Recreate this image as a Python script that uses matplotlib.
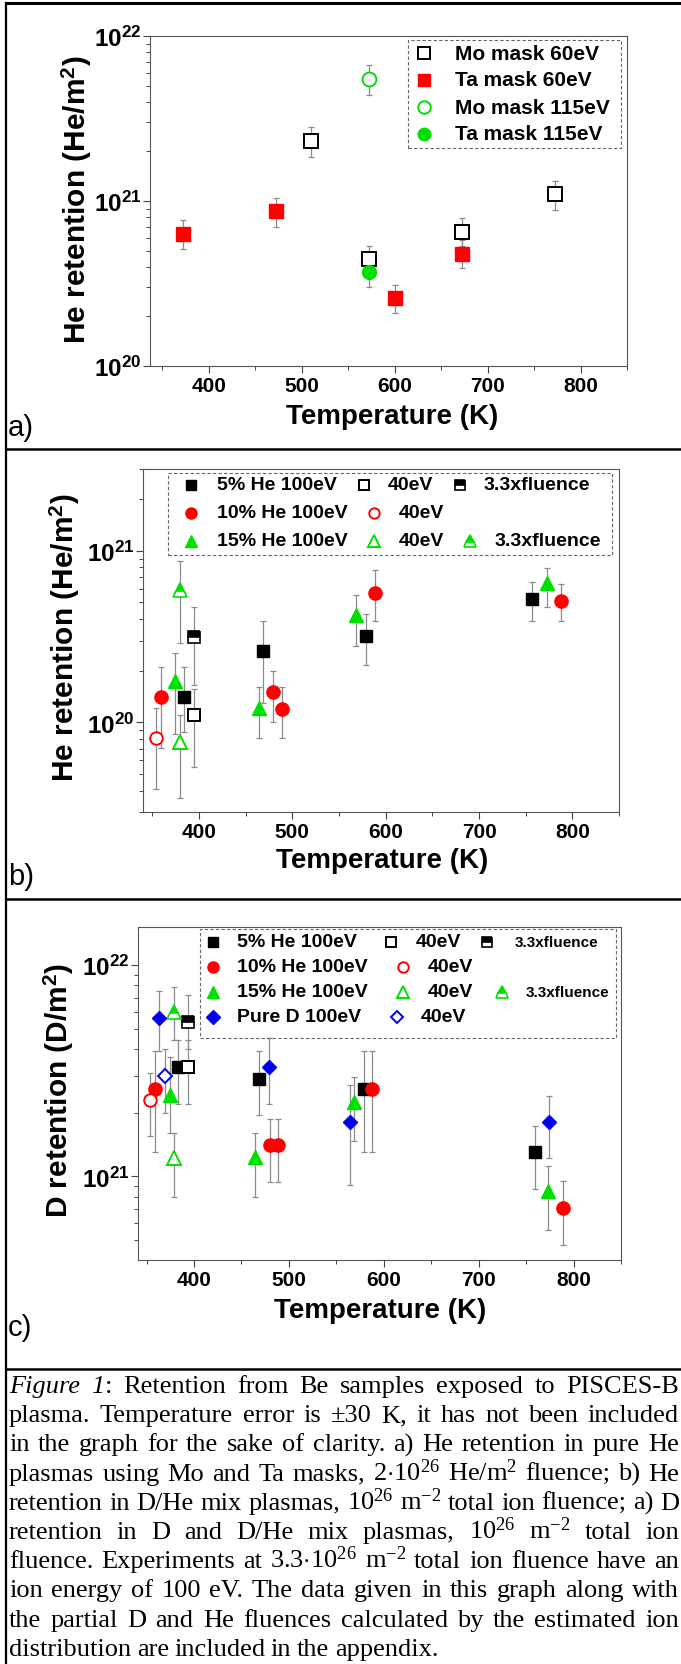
import numpy as np
import matplotlib
matplotlib.use('Agg')
import matplotlib.pyplot as plt
from matplotlib.lines import Line2D
from matplotlib.patches import Rectangle
from matplotlib.ticker import LogLocator, MultipleLocator, NullFormatter

# figure size in pixels
W, H = 681, 1665

plt.rcParams['font.family'] = ['Liberation Sans', 'DejaVu Sans']
plt.rcParams['mathtext.fontset'] = 'custom'
plt.rcParams['mathtext.rm'] = 'Liberation Serif'
plt.rcParams['mathtext.it'] = 'Liberation Serif:italic'
plt.rcParams['mathtext.bf'] = 'Liberation Sans:bold'

RED = '#ff0000'
GREEN = '#00e000'
BLUE = '#0000ee'
BAR = '#8c8c8c'

# ---------------- panel a: He retention, pure He plasma ----------------
mo60_T = [510, 573, 673, 773]
mo60_v = [2.3e21, 4.45e20, 6.5e20, 1.1e21]
mo60_lo = [1.86e21, 3.6e20, 5.3e20, 8.85e20]
mo60_hi = [2.8e21, 5.3e20, 7.9e20, 1.33e21]

ta60_T = [373, 473, 600, 673]
ta60_v = [6.3e20, 8.7e20, 2.6e20, 4.8e20]
ta60_lo = [5.1e20, 7.0e20, 2.1e20, 3.9e20]
ta60_hi = [7.7e20, 1.05e21, 3.1e20, 5.8e20]

mo115_T = [573]
mo115_v = [5.5e21]
mo115_lo = [4.4e21]
mo115_hi = [6.7e21]

ta115_T = [573]
ta115_v = [3.7e20]
ta115_lo = [3.0e20]
ta115_hi = [4.5e20]

# ---------------- panel b: He retention, D/He mix ----------------
he5_T = [384, 469, 579, 757]
he5_v = [1.4e20, 2.6e20, 3.2e20, 5.25e20]
he5_lo = [8.8e19, 1.3e20, 2.16e20, 3.9e20]
he5_hi = [2.1e20, 3.9e20, 4.3e20, 6.6e20]

he5_40_T = [395]
he5_40_v = [1.1e20]
he5_40_lo = [5.5e19]
he5_40_hi = [1.56e20]

he5_33_T = [395]
he5_33_v = [3.16e20]
he5_33_lo = [1.66e20]
he5_33_hi = [4.7e20]

he10_T = [359, 479, 489, 589, 788]
he10_v = [1.4e20, 1.5e20, 1.2e20, 5.7e20, 5.1e20]
he10_lo = [7.1e19, 1.0e20, 8.1e19, 3.9e20, 3.9e20]
he10_hi = [2.1e20, 2.0e20, 1.6e20, 7.7e20, 6.4e20]

he10_40_T = [354]
he10_40_v = [8.1e19]
he10_40_lo = [4.1e19]
he10_40_hi = [1.21e20]

he15_T = [374, 464, 568, 773]
he15_v = [1.75e20, 1.22e20, 4.2e20, 6.5e20]
he15_lo = [8.5e19, 8.1e19, 2.8e20, 4.7e20]
he15_hi = [2.55e20, 1.6e20, 5.5e20, 7.9e20]

he15_40_T = [380]
he15_40_v = [7.7e19]
he15_40_lo = [3.6e19]
he15_40_hi = [1.1e20]

he15_33_T = [380]
he15_33_v = [5.9e20]
he15_33_lo = [2.9e20]
he15_33_hi = [8.7e20]

# ---------------- panel c: D retention ----------------
d5_T = [383, 469, 579, 759]
d5_v = [3.3e21, 2.9e21, 2.6e21, 1.31e21]
d5_lo = [2.2e21, 1.95e21, 1.31e21, 8.7e20]
d5_hi = [4.4e21, 3.9e21, 3.9e21, 1.74e21]

d5_40_T = [394]
d5_40_v = [3.3e21]
d5_40_lo = [2.2e21]
d5_40_hi = [4.4e21]

d5_33_T = [394]
d5_33_v = [5.4e21]
d5_33_lo = [4.0e21]
d5_33_hi = [7.2e21]

d10_T = [359, 480, 489, 588, 789]
d10_v = [2.6e21, 1.41e21, 1.41e21, 2.6e21, 7.1e20]
d10_lo = [1.3e21, 9.4e20, 9.4e20, 1.31e21, 4.75e20]
d10_hi = [3.9e21, 1.87e21, 1.87e21, 3.9e21, 9.5e20]

d10_40_T = [354]
d10_40_v = [2.3e21]
d10_40_lo = [1.55e21]
d10_40_hi = [3.1e21]

d15_T = [375, 464, 569, 773]
d15_v = [2.43e21, 1.23e21, 2.25e21, 8.55e20]
d15_lo = [1.6e21, 8.0e20, 1.47e21, 5.6e20]
d15_hi = [3.66e21, 1.6e21, 2.94e21, 1.12e21]

d15_40_T = [379]
d15_40_v = [1.22e21]
d15_40_lo = [8.0e20]
d15_40_hi = [1.6e21]

d15_33_T = [379]
d15_33_v = [6.0e21]
d15_33_lo = [4.4e21]
d15_33_hi = [7.9e21]

dpure_T = [363, 479, 564, 774]
dpure_v = [5.6e21, 3.3e21, 1.8e21, 1.8e21]
dpure_lo = [3.9e21, 2.2e21, 9.1e20, 1.22e21]
dpure_hi = [7.5e21, 4.5e21, 2.7e21, 2.4e21]

dpure_40_T = [369]
dpure_40_v = [3.0e21]
dpure_40_lo = [2.0e21]
dpure_40_hi = [4.0e21]

x_ticks = [400, 500, 600, 700, 800]

# words wrapped in _..._ are set in italics
caption_lines = [
    '_Figure_ _1_: Retention from Be samples exposed to PISCES-B',
    'plasma. Temperature error is \u00b130 K, it has not been included',
    'in the graph for the sake of clarity. a) He retention in pure He',
    r'plasmas using Mo and Ta masks, 2$\cdot$10$^{\mathrm{26}}$ He/m$^{\mathrm{2}}$ fluence; b) He',
    r'retention in D/He mix plasmas, 10$^{\mathrm{26}}$ m$^{\mathrm{-2}}$ total ion fluence; a) D',
    r'retention in D and D/He mix plasmas, 10$^{\mathrm{26}}$ m$^{\mathrm{-2}}$ total ion',
    r'fluence. Experiments at 3.3$\cdot$10$^{\mathrm{26}}$ m$^{\mathrm{-2}}$ total ion fluence have an',
    'ion energy of 100 eV. The data given in this graph along with',
    'the partial D and He fluences calculated by the estimated ion',
    'distribution are included in the appendix.',
]


def fx(x):
    return x / W


def fy(y):
    return 1 - y / H


def add_axes_px(fig, left, top, right, bottom):
    return fig.add_axes([fx(left), fy(bottom), (right - left) / W, (bottom - top) / H])


def filled(marker, color, size):
    return dict(marker=marker, ms=size, mfc=color, mec=color, mew=1)


def hollow(marker, color, size):
    return dict(marker=marker, ms=size, mfc='white', mec=color, mew=1.4)


def half(marker, color, size):
    return dict(marker=marker, ms=size, mfc=color, mfcalt='white', fillstyle='top',
                mec=color, mew=1.2)


def plot_series(ax, T, v, lo, hi, style):
    yerr = [[a - b for a, b in zip(v, lo)], [b - a for a, b in zip(v, hi)]]
    ax.errorbar(T, v, yerr=yerr, fmt='none', ecolor=BAR, elinewidth=0.9,
                capsize=2.5, capthick=0.9, zorder=2)
    ax.plot(T, v, linestyle='none', zorder=3, **style)


def style_axes(ax, xlim, ylim, yticks):
    ax.set_yscale('log')
    ax.set_xlim(*xlim)
    ax.set_ylim(*ylim)
    ax.set_xticks(x_ticks)
    ax.set_xticklabels([str(t) for t in x_ticks], fontweight='bold')
    ax.xaxis.set_minor_locator(MultipleLocator(50))
    ax.set_yticks(yticks)
    ax.set_yticklabels([r'$\mathbf{10^{%d}}$' % round(np.log10(t)) for t in yticks])
    ax.yaxis.set_minor_locator(LogLocator(base=10, subs=np.arange(2, 10)))
    ax.yaxis.set_minor_formatter(NullFormatter())
    ax.tick_params(which='both', direction='out', top=False, right=False, color='#444')
    ax.tick_params(which='major', length=5, width=0.8)
    ax.tick_params(which='minor', length=3, width=0.7)
    ax.tick_params(axis='x', labelsize=15, pad=2)
    ax.tick_params(axis='y', labelsize=17.5, pad=1)
    for s in ax.spines.values():
        s.set_color('#555555')
        s.set_linewidth(0.8)


def legend_box(fig, left, top, right, bottom):
    fig.add_artist(Rectangle((fx(left), fy(bottom)), (right - left) / W, (bottom - top) / H,
                             transform=fig.transFigure, fill=False, ec='#666666',
                             lw=0.8, ls=(0, (3, 2))))


def legend_item(fig, x, y, style, label, tx, size=14):
    fig.add_artist(Line2D([fx(x)], [fy(y)], transform=fig.transFigure, ls='none', **style))
    fig.text(fx(tx), fy(y), label, fontsize=size, fontweight='bold', va='center', ha='left')


fig = plt.figure(figsize=(W / 100, H / 100), dpi=100)

# ---------- panel a ----------
ax = add_axes_px(fig, 150, 37, 627, 367)
style_axes(ax, (337, 850), (1e20, 1e22), [1e20, 1e21, 1e22])
plot_series(ax, mo60_T, mo60_v, mo60_lo, mo60_hi, hollow('s', 'black', 9.5))
plot_series(ax, ta60_T, ta60_v, ta60_lo, ta60_hi, filled('s', RED, 9.5))
plot_series(ax, mo115_T, mo115_v, mo115_lo, mo115_hi, hollow('o', GREEN, 10))
plot_series(ax, ta115_T, ta115_v, ta115_lo, ta115_hi, filled('o', GREEN, 10))
fig.text(fx(77), fy(200), r'He retention (He/m$^{\mathbf{2}}$)', rotation=90,
         fontsize=21.5, fontweight='bold', ha='center', va='center')
fig.text(fx(392), fy(417), 'Temperature (K)', fontsize=20, fontweight='bold',
         ha='center', va='center')
fig.text(fx(8), fy(428), 'a)', fontsize=21, ha='left', va='center')

legend_box(fig, 408, 41, 621, 149)
legend_item(fig, 424, 54, hollow('s', 'black', 8), 'Mo mask 60eV', 455, 15)
legend_item(fig, 424, 81, filled('s', RED, 8), 'Ta mask 60eV', 455, 15)
legend_item(fig, 424, 108, hollow('o', GREEN, 9), 'Mo mask 115eV', 455, 15)
legend_item(fig, 424, 135, filled('o', GREEN, 9), 'Ta mask 115eV', 455, 15)

# ---------- panel b ----------
ax = add_axes_px(fig, 143, 470, 619, 813)
style_axes(ax, (340, 850), (3.0e19, 3.0e21), [1e20, 1e21])
plot_series(ax, he5_T, he5_v, he5_lo, he5_hi, filled('s', 'black', 8.5))
plot_series(ax, he5_40_T, he5_40_v, he5_40_lo, he5_40_hi, hollow('s', 'black', 8.5))
plot_series(ax, he5_33_T, he5_33_v, he5_33_lo, he5_33_hi, half('s', 'black', 8.5))
plot_series(ax, he10_T, he10_v, he10_lo, he10_hi, filled('o', RED, 9.5))
plot_series(ax, he10_40_T, he10_40_v, he10_40_lo, he10_40_hi, hollow('o', RED, 9))
plot_series(ax, he15_T, he15_v, he15_lo, he15_hi, filled('^', GREEN, 10))
plot_series(ax, he15_40_T, he15_40_v, he15_40_lo, he15_40_hi, hollow('^', GREEN, 10))
plot_series(ax, he15_33_T, he15_33_v, he15_33_lo, he15_33_hi, half('^', GREEN, 10))
fig.text(fx(65), fy(638), r'He retention (He/m$^{\mathbf{2}}$)', rotation=90,
         fontsize=21.5, fontweight='bold', ha='center', va='center')
fig.text(fx(382), fy(861), 'Temperature (K)', fontsize=20, fontweight='bold',
         ha='center', va='center')
fig.text(fx(8), fy(877), 'b)', fontsize=21, ha='left', va='center')

legend_box(fig, 168, 474, 612, 556)
legend_item(fig, 191, 486, filled('s', 'black', 7), '5% He 100eV', 217)
legend_item(fig, 364, 486, hollow('s', 'black', 7), '40eV', 388)
legend_item(fig, 460, 486, half('s', 'black', 7), '3.3xfluence', 484)
legend_item(fig, 191, 514, filled('o', RED, 8), '10% He 100eV', 217)
legend_item(fig, 374, 514, hollow('o', RED, 7.5), '40eV', 399)
legend_item(fig, 191, 542, filled('^', GREEN, 9), '15% He 100eV', 217)
legend_item(fig, 374, 542, hollow('^', GREEN, 9), '40eV', 399)
legend_item(fig, 470, 542, half('^', GREEN, 9), '3.3xfluence', 495)

# ---------- panel c ----------
ax = add_axes_px(fig, 138, 928, 621, 1261)
style_axes(ax, (341, 850), (4.03e20, 1.51e22), [1e21, 1e22])
plot_series(ax, d5_T, d5_v, d5_lo, d5_hi, filled('s', 'black', 8.5))
plot_series(ax, d5_40_T, d5_40_v, d5_40_lo, d5_40_hi, hollow('s', 'black', 8.5))
plot_series(ax, d5_33_T, d5_33_v, d5_33_lo, d5_33_hi, half('s', 'black', 8.5))
plot_series(ax, d10_T, d10_v, d10_lo, d10_hi, filled('o', RED, 9.5))
plot_series(ax, d10_40_T, d10_40_v, d10_40_lo, d10_40_hi, hollow('o', RED, 9))
plot_series(ax, d15_T, d15_v, d15_lo, d15_hi, filled('^', GREEN, 10))
plot_series(ax, d15_40_T, d15_40_v, d15_40_lo, d15_40_hi, hollow('^', GREEN, 10))
plot_series(ax, d15_33_T, d15_33_v, d15_33_lo, d15_33_hi, half('^', GREEN, 10))
plot_series(ax, dpure_T, dpure_v, dpure_lo, dpure_hi, filled('D', BLUE, 7.5))
plot_series(ax, dpure_40_T, dpure_40_v, dpure_40_lo, dpure_40_hi, hollow('D', BLUE, 7))
fig.text(fx(59), fy(1090), r'D retention (D/m$^{\mathbf{2}}$)', rotation=90,
         fontsize=21.5, fontweight='bold', ha='center', va='center')
fig.text(fx(380), fy(1311), 'Temperature (K)', fontsize=20, fontweight='bold',
         ha='center', va='center')
fig.text(fx(8), fy(1328), 'c)', fontsize=21, ha='left', va='center')

legend_box(fig, 200, 930, 616, 1039)
legend_item(fig, 213, 943, filled('s', 'black', 7), '5% He 100eV', 237)
legend_item(fig, 391, 943, hollow('s', 'black', 7), '40eV', 416)
legend_item(fig, 487, 943, half('s', 'black', 7), '3.3xfluence', 515, 11)
legend_item(fig, 213, 968, filled('o', RED, 8), '10% He 100eV', 237)
legend_item(fig, 403, 968, hollow('o', RED, 7.5), '40eV', 428)
legend_item(fig, 213, 993, filled('^', GREEN, 9), '15% He 100eV', 237)
legend_item(fig, 403, 993, hollow('^', GREEN, 9), '40eV', 428)
legend_item(fig, 502, 993, half('^', GREEN, 9), '3.3xfluence', 526, 11)
legend_item(fig, 213, 1018, filled('D', BLUE, 7), 'Pure D 100eV', 237)
legend_item(fig, 397, 1018, hollow('D', BLUE, 6.5), '40eV', 421)

# ---------- frame lines ----------
fig.add_artist(Line2D([fx(6), 1], [fy(4), fy(4)], transform=fig.transFigure, color='black', lw=2.2))
fig.add_artist(Line2D([fx(6), fx(6)], [fy(4), 0], transform=fig.transFigure, color='black', lw=1.6))
for ysep in [450, 900, 1370]:
    fig.add_artist(Line2D([fx(6), 1], [fy(ysep), fy(ysep)], transform=fig.transFigure,
                          color='black', lw=1.8))

# ---------- caption, justified ----------
renderer = fig.canvas.get_renderer()
x_left, x_right = 9, 679
for i, line in enumerate(caption_lines):
    yb = fy(1393 + i * 29.2)
    words = []
    for word in line.split(' '):
        # a word can hold italic and upright parts side by side
        parts = word.split('_')
        segs = []
        for k, p in enumerate(parts):
            if p:
                t = fig.text(0, yb, p, fontsize=19, family='Liberation Serif',
                             style='italic' if k % 2 == 1 else 'normal',
                             va='baseline', ha='left')
                segs.append((t, t.get_window_extent(renderer).width))
        words.append(segs)
    widths = [sum(w for _, w in segs) for segs in words]
    if i == len(caption_lines) - 1:
        gap = 5.5
    else:
        gap = (x_right - x_left - sum(widths)) / (len(words) - 1)
    x = x_left
    for segs, wd in zip(words, widths):
        xs = x
        for t, w in segs:
            t.set_x(fx(xs))
            xs += w
        x += wd + gap

fig.savefig('out.png', dpi=100)
